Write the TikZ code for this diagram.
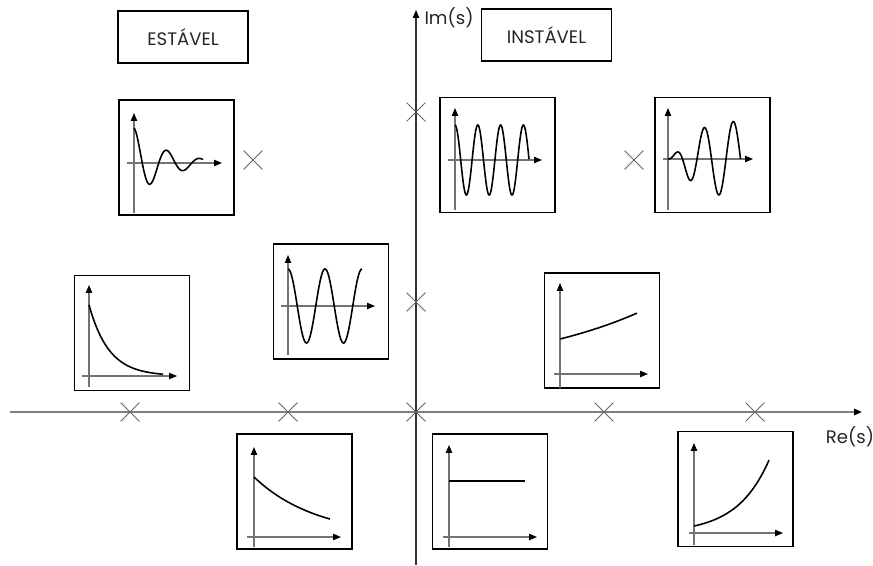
\documentclass[tikz,border=0pt]{standalone}
\usepackage{fontspec}
\setmainfont{Poppins}
\usetikzlibrary{arrows.meta,shapes.misc}

\begin{document}
\begin{tikzpicture}[x=0.2mm,y=-0.2mm,
    font=\fontsize{10.3}{12}\selectfont,
    tip/.style={-{Triangle[black,length=4.5pt,width=3.6pt]}},
    reaxis/.style={tip, line width=1.2pt, black!50},
    imaxis/.style={tip, line width=0.6pt, black!80},
    miniaxis/.style={tip, line width=0.6pt, black!55},
    curve/.style={line width=0.9pt, black},
    graphbox/.style={draw, line width=0.8pt, minimum size=23mm, inner sep=0pt},
    labelbox/.style={draw, line width=0.8pt, minimum width=26mm, minimum height=10.4mm, text=black!85},
    pole/.style={draw=black!60, cross out, minimum size=3.6mm, inner sep=0pt, line width=0.5pt}]
    \useasboundingbox (0,0) rectangle (873,565);

    % Axes of the s-plane
    \coordinate (xl) at (10,412);
    \coordinate (xr) at (862,412);
    \coordinate (yb) at (416,565);
    \coordinate (yt) at (416,10);
    \draw[reaxis] (xl) -- (xr);
    \draw[imaxis] (yb) -- (yt);
    \node[text=black!85] (im) at (449,18) {Im(s)};
    \node[text=black!85] (re) at (850,437) {Re(s)};

    % Region labels
    \node[labelbox] (est) at (183,37) {ESTÁVEL};
    \node[labelbox] (inst) at (546.5,35) {INSTÁVEL};

    % Poles
    \node[pole] (p1) at (130,412) {};
    \node[pole] (p2) at (288,412) {};
    \node[pole] (p3) at (416,412) {};
    \node[pole] (p4) at (604,412) {};
    \node[pole] (p5) at (755,412) {};
    \node[pole] (p6) at (416,302) {};
    \node[pole] (p7) at (416,112) {};
    \node[pole] (p8) at (253,160) {};
    \node[pole] (p9) at (634,160) {};

    % Damped oscillation
    \node[graphbox] (g1) at (176.5,157.5) {};
    \begin{scope}[shift={(134,163)}]
        \draw[miniaxis] (0,50) -- (0,-50);
        \draw[miniaxis] (-7,0) -- (88,0);
        \draw[curve] plot[domain=0:69,samples=150,smooth] (\x,{-35*exp(-0.031*\x)*cos(10.91*\x)});
    \end{scope}

    % Pure oscillation, high frequency
    \node[graphbox] (g2) at (497.5,155) {};
    \begin{scope}[shift={(455,160)}]
        \draw[miniaxis] (0,50) -- (0,-52);
        \draw[miniaxis] (-7,0) -- (87,0);
        \draw[curve] plot[domain=0:74,samples=150,smooth] (\x,{-35*cos(15.79*\x)});
    \end{scope}

    % Growing oscillation
    \node[graphbox] (g3) at (712.5,155) {};
    \begin{scope}[shift={(668,159)}]
        \draw[miniaxis] (0,51) -- (0,-51);
        \draw[miniaxis] (-5,0) -- (85,0);
        \draw[curve] plot[domain=0:72.5,samples=150,smooth] (\x,{-38*(1-exp(-(\x/25)*sqrt(\x/25)))*sin(12.41*\x)});
    \end{scope}

    % Fast decay
    \node[graphbox] (g4) at (132,333) {};
    \begin{scope}[shift={(89,376)}]
        \draw[miniaxis] (0,11) -- (0,-91);
        \draw[miniaxis] (-7,0) -- (88,0);
        \draw[curve] plot[domain=0:74,samples=100,smooth] (\x,{-71*exp(-\x/20)});
    \end{scope}

    % Pure oscillation, low frequency
    \node[graphbox] (g5) at (331,301.5) {};
    \begin{scope}[shift={(288,306)}]
        \draw[miniaxis] (0,49) -- (0,-51);
        \draw[miniaxis] (-7,0) -- (87,0);
        \draw[curve] plot[domain=0:74,samples=150,smooth] (\x,{-37*cos(9.73*\x)});
    \end{scope}

    % Slow growth
    \node[graphbox] (g6) at (602,330.5) {};
    \begin{scope}[shift={(560,374)}]
        \draw[miniaxis] (0,14) -- (0,-91);
        \draw[miniaxis] (-6,0) -- (88,0);
        \draw[curve] plot[domain=0:77,samples=60,smooth] (\x,{-35*exp(\x/139)});
    \end{scope}

    % Slow decay
    \node[graphbox] (g7) at (294.5,491.5) {};
    \begin{scope}[shift={(254,537)}]
        \draw[miniaxis] (0,10) -- (0,-90);
        \draw[miniaxis] (-7,0) -- (87,0);
        \draw[curve] plot[domain=0:76,samples=80,smooth] (\x,{-60*exp(-\x/63)});
    \end{scope}

    % Constant
    \node[graphbox] (g8) at (490,491.5) {};
    \begin{scope}[shift={(449,537)}]
        \draw[miniaxis] (0,10) -- (0,-92);
        \draw[miniaxis] (-6,0) -- (88,0);
        \draw[curve] (0,-56) -- (76,-56);
    \end{scope}

    % Fast growth
    \node[graphbox] (g9) at (735.5,489) {};
    \begin{scope}[shift={(694,533)}]
        \draw[miniaxis] (0,12) -- (0,-90);
        \draw[miniaxis] (-5,0) -- (89,0);
        \draw[curve] plot[domain=0:75,samples=80,smooth] (\x,{-7*exp(\x/32)});
    \end{scope}
\end{tikzpicture}
\end{document}
